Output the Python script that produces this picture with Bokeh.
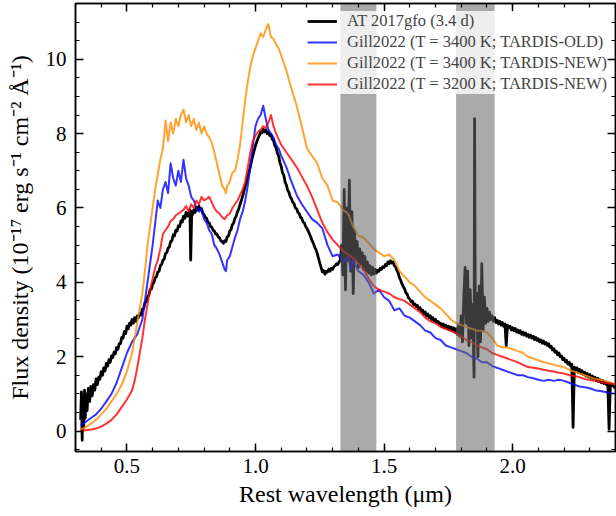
from bokeh.plotting import figure
from bokeh.models import (Legend, LegendItem, SingleIntervalTicker, LinearAxis,
                          PrintfTickFormatter, Range1d)
from bokeh.embed import file_html
from bokeh.resources import INLINE

# ---------------- data ----------------
obs = [(0.320,0.30),(0.323,1.05),(0.326,-0.25),(0.329,0.95),(0.332,0.10),(0.335,1.10),(0.338,0.35),(0.341,1.00),(0.345,0.55),(0.350,1.15),(0.355,0.80),(0.360,1.20),(0.365,0.95),(0.370,1.25),(0.375,1.10),(0.380,1.40),(0.385,1.25),(0.390,1.45),(0.395,1.40),(0.400,1.60),(0.405,1.50),(0.410,1.70),(0.415,1.62),(0.420,1.82),(0.425,1.75),(0.430,1.92),(0.435,1.85),(0.440,2.02),(0.445,1.98),(0.450,2.12),(0.455,2.08),(0.460,2.25),(0.465,2.20),(0.470,2.35),(0.475,2.35),(0.480,2.52),(0.485,2.50),(0.490,2.68),(0.495,2.62),(0.500,2.82),(0.505,2.75),(0.510,2.90),(0.515,2.85),(0.520,3.00),(0.525,2.90),(0.530,3.05),(0.535,2.95),(0.540,3.10),(0.545,3.05),(0.550,3.15),(0.555,3.12),(0.560,3.28),(0.565,3.30),(0.570,3.45),(0.575,3.48),(0.580,3.62),(0.585,3.65),(0.590,3.80),(0.595,3.82),(0.600,3.95),(0.605,4.00),(0.610,4.12),(0.615,4.15),(0.620,4.28),(0.625,4.30),(0.630,4.45),(0.635,4.48),(0.640,4.60),(0.645,4.62),(0.650,4.78),(0.655,4.80),(0.660,4.92),(0.665,4.95),(0.670,5.10),(0.675,5.12),(0.680,5.28),(0.685,5.25),(0.690,5.40),(0.695,5.38),(0.700,5.52),(0.705,5.50),(0.710,5.65),(0.715,5.62),(0.720,5.78),(0.725,5.72),(0.730,5.88),(0.735,5.78),(0.740,5.85),(0.745,5.95),(0.748,4.60),(0.752,5.90),(0.755,5.82),(0.760,5.95),(0.765,5.88),(0.770,6.02),(0.775,5.95),(0.780,6.05),(0.785,5.95),(0.790,5.98),(0.795,5.85),(0.800,5.82),(0.805,5.75),(0.810,5.72),(0.815,5.62),(0.820,5.60),(0.825,5.50),(0.830,5.48),(0.835,5.40),(0.840,5.38),(0.845,5.30),(0.850,5.30),(0.855,5.22),(0.860,5.20),(0.865,5.12),(0.870,5.10),(0.875,5.05),(0.880,5.12),(0.885,5.10),(0.890,5.22),(0.895,5.25),(0.900,5.38),(0.905,5.42),(0.910,5.55),(0.915,5.60),(0.920,5.72),(0.925,5.78),(0.930,5.90),(0.935,5.98),(0.940,6.10),(0.945,6.20),(0.950,6.32),(0.955,6.45),(0.960,6.58),(0.965,6.70),(0.970,6.85),(0.975,6.98),(0.980,7.12),(0.985,7.28),(0.990,7.42),(0.995,7.55),(1.000,7.68),(1.005,7.78),(1.010,7.88),(1.015,7.95),(1.020,8.05),(1.025,8.02),(1.030,8.12),(1.035,8.05),(1.040,8.10),(1.045,8.00),(1.050,8.05),(1.055,7.95),(1.060,7.98),(1.065,7.85),(1.070,7.82),(1.075,7.68),(1.080,7.62),(1.085,7.48),(1.090,7.40),(1.095,7.22),(1.100,7.12),(1.105,6.95),(1.110,6.88),(1.115,6.70),(1.120,6.62),(1.125,6.48),(1.130,6.42),(1.135,6.30),(1.140,6.25),(1.145,6.15),(1.150,6.12),(1.155,6.00),(1.160,5.98),(1.165,5.88),(1.170,5.85),(1.175,5.75),(1.180,5.72),(1.185,5.62),(1.190,5.60),(1.195,5.50),(1.200,5.45),(1.205,5.38),(1.210,5.30),(1.215,5.22),(1.220,5.12),(1.225,5.05),(1.230,4.95),(1.235,4.88),(1.240,4.78),(1.245,4.65),(1.250,4.52),(1.255,4.40),(1.260,4.28),(1.265,4.32),(1.270,4.22),(1.275,4.30),(1.280,4.28),(1.285,4.35),(1.290,4.30),(1.295,4.38),(1.300,4.35),(1.305,4.42),(1.310,4.45),(1.315,4.50),(1.320,4.48),(1.325,4.55),(1.330,4.60),(1.335,5.00),(1.340,4.20),(1.345,6.50),(1.350,3.80),(1.355,6.00),(1.360,4.60),(1.365,6.75),(1.370,4.30),(1.375,5.90),(1.380,3.70),(1.385,5.40),(1.390,4.60),(1.395,5.10),(1.400,4.40),(1.405,4.90),(1.410,4.50),(1.415,4.80),(1.420,4.35),(1.425,4.70),(1.430,4.30),(1.435,4.55),(1.440,4.25),(1.445,4.45),(1.450,4.20),(1.455,4.40),(1.460,4.22),(1.465,4.35),(1.470,4.25),(1.475,4.32),(1.480,4.30),(1.485,4.38),(1.490,4.35),(1.495,4.42),(1.500,4.40),(1.505,4.48),(1.510,4.45),(1.515,4.55),(1.520,4.50),(1.525,4.58),(1.530,4.52),(1.535,4.55),(1.540,4.45),(1.545,4.42),(1.550,4.32),(1.555,4.25),(1.560,4.12),(1.565,4.05),(1.570,3.95),(1.575,3.88),(1.580,3.82),(1.585,3.72),(1.590,3.68),(1.595,3.58),(1.600,3.55),(1.605,3.48),(1.610,3.50),(1.615,3.40),(1.620,3.42),(1.625,3.35),(1.630,3.38),(1.635,3.28),(1.640,3.32),(1.645,3.22),(1.650,3.25),(1.655,3.15),(1.660,3.20),(1.665,3.10),(1.670,3.15),(1.675,3.05),(1.680,3.10),(1.685,3.00),(1.690,3.05),(1.695,2.95),(1.700,3.00),(1.705,2.92),(1.710,2.95),(1.715,2.88),(1.720,2.90),(1.725,2.82),(1.730,2.88),(1.735,2.78),(1.740,2.85),(1.745,2.75),(1.750,2.82),(1.755,2.72),(1.760,2.80),(1.765,2.70),(1.770,2.78),(1.775,2.68),(1.780,2.75),(1.785,2.60),(1.790,2.85),(1.795,2.55),(1.800,3.10),(1.805,2.40),(1.810,3.60),(1.815,4.40),(1.820,2.90),(1.825,4.30),(1.830,2.30),(1.835,3.80),(1.840,2.50),(1.845,3.40),(1.850,1.45),(1.852,8.40),(1.855,2.80),(1.860,3.70),(1.865,2.00),(1.870,3.90),(1.875,2.40),(1.880,4.50),(1.885,2.70),(1.890,3.60),(1.895,2.90),(1.900,3.30),(1.905,2.95),(1.910,3.20),(1.915,3.00),(1.920,3.10),(1.925,2.95),(1.930,3.05),(1.935,2.92),(1.940,2.98),(1.945,2.88),(1.950,2.95),(1.955,2.85),(1.960,2.92),(1.965,2.82),(1.970,2.88),(1.975,2.30),(1.980,2.85),(1.985,2.78),(1.990,2.82),(1.995,2.72),(2.000,2.78),(2.005,2.70),(2.010,2.76),(2.015,2.66),(2.020,2.72),(2.025,2.64),(2.030,2.70),(2.035,2.60),(2.040,2.66),(2.045,2.58),(2.050,2.64),(2.055,2.55),(2.060,2.60),(2.065,2.52),(2.070,2.58),(2.075,2.50),(2.080,2.55),(2.085,2.46),(2.090,2.52),(2.095,2.44),(2.100,2.48),(2.105,2.40),(2.110,2.45),(2.115,2.36),(2.120,2.42),(2.125,2.34),(2.130,2.38),(2.135,2.30),(2.140,2.35),(2.145,2.25),(2.150,2.28),(2.155,2.18),(2.160,2.22),(2.165,2.12),(2.170,2.15),(2.175,2.05),(2.180,2.10),(2.185,2.00),(2.190,2.02),(2.195,1.92),(2.200,1.96),(2.205,1.86),(2.210,1.90),(2.215,1.80),(2.220,1.85),(2.225,1.75),(2.230,1.80),(2.235,0.10),(2.240,1.72),(2.245,1.65),(2.250,1.70),(2.255,1.58),(2.260,1.66),(2.265,1.55),(2.270,1.62),(2.275,1.52),(2.280,1.58),(2.285,1.48),(2.290,1.55),(2.295,1.45),(2.300,1.52),(2.305,1.42),(2.310,1.48),(2.315,1.40),(2.320,1.45),(2.325,1.36),(2.330,1.42),(2.335,1.33),(2.340,1.38),(2.345,1.30),(2.350,1.36),(2.355,1.28),(2.360,1.32),(2.365,1.25),(2.370,1.30),(2.375,0.05),(2.380,1.28),(2.385,1.22),(2.390,1.25),(2.395,1.18),(2.400,1.22)]

tardis_old_3400 = [(0.32,0.15),(0.34,0.25),(0.36,0.35),(0.38,0.45),(0.40,0.60),(0.42,0.80),(0.44,1.00),(0.46,1.30),(0.48,1.70),(0.50,2.10),(0.52,2.40),(0.54,2.60),(0.56,3.00),(0.57,3.50),(0.58,4.00),(0.59,4.50),(0.60,5.00),(0.61,5.60),(0.62,6.20),(0.63,6.00),(0.64,6.50),(0.65,6.70),(0.66,6.40),(0.67,7.20),(0.68,6.80),(0.69,6.60),(0.70,7.00),(0.71,6.70),(0.72,7.30),(0.73,6.80),(0.74,6.60),(0.75,6.30),(0.76,6.20),(0.77,6.00),(0.78,5.90),(0.79,6.00),(0.80,5.70),(0.81,5.60),(0.82,5.40),(0.83,5.30),(0.84,5.00),(0.85,4.90),(0.86,4.75),(0.87,4.55),(0.88,4.35),(0.885,4.30),(0.89,4.60),(0.90,4.70),(0.91,4.95),(0.92,5.20),(0.93,5.40),(0.94,5.70),(0.95,5.90),(0.96,6.20),(0.97,6.60),(0.98,7.10),(0.99,7.70),(1.00,8.20),(1.01,8.40),(1.02,8.50),(1.03,8.75),(1.04,8.40),(1.05,8.10),(1.06,8.00),(1.07,7.90),(1.08,7.70),(1.09,7.60),(1.10,7.40),(1.12,7.10),(1.14,6.70),(1.16,6.35),(1.18,6.10),(1.20,5.90),(1.22,5.70),(1.24,5.60),(1.26,5.45),(1.28,5.00),(1.30,4.70),(1.32,4.75),(1.34,4.55),(1.36,4.70),(1.37,4.35),(1.38,4.60),(1.40,4.30),(1.42,4.20),(1.44,4.00),(1.46,3.70),(1.48,3.80),(1.50,3.60),(1.52,3.50),(1.54,3.25),(1.56,3.30),(1.58,3.10),(1.60,3.05),(1.62,2.95),(1.64,2.85),(1.66,2.70),(1.68,2.65),(1.70,2.50),(1.72,2.45),(1.74,2.30),(1.76,2.25),(1.78,2.20),(1.80,2.15),(1.82,2.10),(1.84,2.00),(1.86,1.95),(1.88,1.85),(1.90,1.85),(1.92,1.75),(1.94,1.70),(1.96,1.65),(1.98,1.60),(2.00,1.55),(2.02,1.50),(2.04,1.50),(2.06,1.45),(2.08,1.42),(2.10,1.38),(2.12,1.35),(2.14,1.38),(2.16,1.35),(2.18,1.38),(2.20,1.35),(2.22,1.30),(2.24,1.25),(2.26,1.20),(2.28,1.18),(2.30,1.15),(2.32,1.10),(2.34,1.08),(2.36,1.05),(2.38,1.02),(2.40,1.00)]

tardis_new_3400 = [(0.32,0.05),(0.34,0.10),(0.36,0.20),(0.38,0.30),(0.40,0.45),(0.42,0.60),(0.44,0.80),(0.46,1.00),(0.48,1.25),(0.50,1.60),(0.52,2.10),(0.53,2.50),(0.54,2.90),(0.55,3.30),(0.56,3.70),(0.57,4.30),(0.58,5.00),(0.59,5.50),(0.60,6.00),(0.61,6.50),(0.62,6.90),(0.63,7.30),(0.64,7.60),(0.65,8.35),(0.66,7.80),(0.67,8.30),(0.68,8.00),(0.69,8.40),(0.70,8.20),(0.71,8.50),(0.72,8.65),(0.73,8.30),(0.74,8.50),(0.75,8.20),(0.76,8.40),(0.77,8.10),(0.78,8.30),(0.79,8.00),(0.80,8.20),(0.81,8.00),(0.82,7.90),(0.83,7.75),(0.84,7.50),(0.85,7.20),(0.86,6.90),(0.87,6.60),(0.88,6.50),(0.885,6.40),(0.89,6.60),(0.90,6.70),(0.91,6.95),(0.92,7.00),(0.93,7.30),(0.94,7.70),(0.95,8.30),(0.96,8.90),(0.97,9.40),(0.98,9.80),(0.99,10.10),(1.00,10.30),(1.01,10.50),(1.02,10.70),(1.03,10.60),(1.04,10.80),(1.05,10.95),(1.06,10.60),(1.07,10.55),(1.08,10.40),(1.09,10.30),(1.10,10.10),(1.12,9.70),(1.14,9.20),(1.16,8.75),(1.18,8.20),(1.20,7.60),(1.22,7.40),(1.24,7.20),(1.26,6.80),(1.28,6.60),(1.30,6.20),(1.32,6.15),(1.34,5.95),(1.36,5.85),(1.38,5.50),(1.40,5.25),(1.42,5.20),(1.44,5.05),(1.46,4.90),(1.48,4.80),(1.50,4.70),(1.52,4.75),(1.54,4.60),(1.56,4.30),(1.58,4.15),(1.60,4.00),(1.62,3.90),(1.64,3.75),(1.66,3.60),(1.68,3.50),(1.70,3.40),(1.72,3.30),(1.74,3.15),(1.76,3.00),(1.78,2.90),(1.80,2.85),(1.82,2.80),(1.84,2.75),(1.86,2.70),(1.88,2.70),(1.90,2.65),(1.92,2.50),(1.94,2.30),(1.96,2.25),(1.98,2.25),(2.00,2.20),(2.02,2.15),(2.04,2.10),(2.06,2.00),(2.08,1.95),(2.10,1.90),(2.12,1.85),(2.14,1.82),(2.16,1.78),(2.18,1.75),(2.20,1.72),(2.22,1.65),(2.24,1.60),(2.26,1.55),(2.28,1.50),(2.30,1.45),(2.32,1.40),(2.34,1.38),(2.36,1.35),(2.38,1.30),(2.40,1.25)]

tardis_new_3200 = [(0.32,0.02),(0.34,0.02),(0.36,0.04),(0.38,0.07),(0.40,0.12),(0.42,0.20),(0.44,0.30),(0.46,0.45),(0.48,0.65),(0.50,0.85),(0.52,1.10),(0.53,1.35),(0.54,1.70),(0.55,2.10),(0.56,2.50),(0.57,3.00),(0.58,3.40),(0.59,3.80),(0.60,4.10),(0.61,4.40),(0.62,4.60),(0.63,4.90),(0.64,5.30),(0.65,5.40),(0.66,5.50),(0.67,5.65),(0.68,5.70),(0.69,5.80),(0.70,5.85),(0.71,5.90),(0.72,5.95),(0.73,6.05),(0.74,5.90),(0.75,6.10),(0.76,6.00),(0.77,6.20),(0.78,6.10),(0.79,6.30),(0.80,6.20),(0.81,6.25),(0.82,6.30),(0.83,6.15),(0.84,6.00),(0.85,5.90),(0.86,5.85),(0.87,5.75),(0.88,5.70),(0.89,5.80),(0.90,5.85),(0.91,6.00),(0.92,6.10),(0.93,6.20),(0.94,6.35),(0.95,6.50),(0.96,6.70),(0.97,7.10),(0.98,7.50),(0.99,7.80),(1.00,7.95),(1.01,8.05),(1.02,8.10),(1.03,8.20),(1.04,8.15),(1.05,8.30),(1.06,8.50),(1.07,8.20),(1.08,8.00),(1.09,7.85),(1.10,7.70),(1.12,7.50),(1.14,7.30),(1.16,7.10),(1.18,6.85),(1.20,6.60),(1.22,6.30),(1.24,5.95),(1.26,5.60),(1.28,5.35),(1.30,5.15),(1.32,5.00),(1.34,4.85),(1.36,4.75),(1.38,4.65),(1.40,4.50),(1.42,4.35),(1.44,4.10),(1.46,3.90),(1.48,3.80),(1.50,3.75),(1.52,3.70),(1.54,3.60),(1.56,3.55),(1.58,3.50),(1.60,3.40),(1.62,3.30),(1.64,3.20),(1.66,3.05),(1.68,2.95),(1.70,2.90),(1.72,2.80),(1.74,2.75),(1.76,2.70),(1.78,2.62),(1.80,2.55),(1.82,2.45),(1.84,2.40),(1.86,2.30),(1.88,2.25),(1.90,2.20),(1.92,2.10),(1.94,2.05),(1.96,2.00),(1.98,1.95),(2.00,1.90),(2.02,1.85),(2.04,1.78),(2.06,1.72),(2.08,1.70),(2.10,1.68),(2.12,1.65),(2.14,1.62),(2.16,1.60),(2.18,1.57),(2.20,1.55),(2.22,1.50),(2.24,1.48),(2.26,1.45),(2.28,1.40),(2.30,1.37),(2.32,1.35),(2.34,1.32),(2.36,1.30),(2.38,1.28),(2.40,1.25)]

series_labels = ["AT 2017gfo (3.4 d)",
                 "Gill2022 (T = 3400 K; TARDIS-OLD)",
                 "Gill2022 (T = 3400 K; TARDIS-NEW)",
                 "Gill2022 (T = 3200 K; TARDIS-NEW)"]
series_colors = ["black", "#0000ff", "darkorange", "#ff0000"]
series_alpha = [1.0, 0.8, 0.8, 0.8]
series_width = [2.8, 2.0, 2.0, 2.0]

band_left = [1.33, 1.78]
band_right = [1.47, 1.93]

x_lim = (0.3, 2.4)
y_lim = (-0.55, 11.5)

FONT = "Liberation Serif"

# ---------------- figure ----------------
p = figure(width=616, height=516, x_range=Range1d(*x_lim), y_range=Range1d(*y_lim),
           output_backend="svg", toolbar_location=None,
           min_border_left=75, min_border_right=1, min_border_top=3, min_border_bottom=65)
p.grid.visible = False
p.outline_line_color = "black"
p.outline_line_width = 1.5
p.background_fill_color = "white"
p.border_fill_color = "white"

xticker = SingleIntervalTicker(interval=0.5, num_minor_ticks=5)
yticker = SingleIntervalTicker(interval=2, num_minor_ticks=4)

def style_axis(ax, ticker, show_labels):
    ax.ticker = ticker
    ax.axis_line_width = 1.5
    ax.major_tick_line_width = 1.5
    ax.minor_tick_line_width = 1.2
    ax.major_tick_in = 8
    ax.major_tick_out = 0
    ax.minor_tick_in = 4
    ax.minor_tick_out = 0
    if show_labels:
        ax.major_label_text_font = FONT
        ax.major_label_text_font_size = "21px"
        ax.major_label_text_color = "black"
        ax.axis_label_text_font = FONT
        ax.axis_label_text_font_size = "24px"
        ax.axis_label_text_font_style = "normal"
        ax.axis_label_text_color = "black"
    else:
        ax.major_label_text_font_size = "1px"
        ax.major_label_text_color = None
        ax.major_label_standoff = 0

style_axis(p.xaxis[0], xticker, True)
style_axis(p.yaxis[0], yticker, True)
p.xaxis[0].formatter = PrintfTickFormatter(format="%.1f")
p.xaxis[0].major_label_standoff = 7
p.xaxis[0].axis_label = "Rest wavelength (μm)"
p.xaxis[0].axis_label_standoff = 5
p.yaxis[0].major_label_standoff = 9
p.yaxis[0].axis_label = "Flux density (10⁻¹⁷ erg s⁻¹ cm⁻² Å⁻¹)"
p.yaxis[0].axis_label_standoff = 10

top_ax = LinearAxis()
right_ax = LinearAxis()
style_axis(top_ax, xticker, False)
style_axis(right_ax, yticker, False)
p.add_layout(top_ax, "above")
p.add_layout(right_ax, "right")

renderers = []
for pts, col, a, w in zip([obs, tardis_old_3400, tardis_new_3400, tardis_new_3200],
                          series_colors, series_alpha, series_width):
    xs = [q[0] for q in pts]
    ys = [q[1] for q in pts]
    r = p.line(xs, ys, line_color=col, line_alpha=a, line_width=w, line_join="round")
    renderers.append(r)

# telluric bands drawn on top of the spectra
p.quad(left=band_left, right=band_right, bottom=[y_lim[0]] * len(band_left),
       top=[y_lim[1]] * len(band_left), fill_color="#686868", fill_alpha=0.56,
       line_color=None)

legend = Legend(items=[LegendItem(label=l, renderers=[r]) for l, r in zip(series_labels, renderers)],
                location="top_right", background_fill_color="white", background_fill_alpha=0.8,
                border_line_color=None, label_text_font=FONT, label_text_font_size="16.5px",
                glyph_width=30, glyph_height=20, label_height=20, spacing=1, padding=6,
                margin=8, label_standoff=10)
p.add_layout(legend)

open("out.html", "w").write(file_html(p, INLINE))
